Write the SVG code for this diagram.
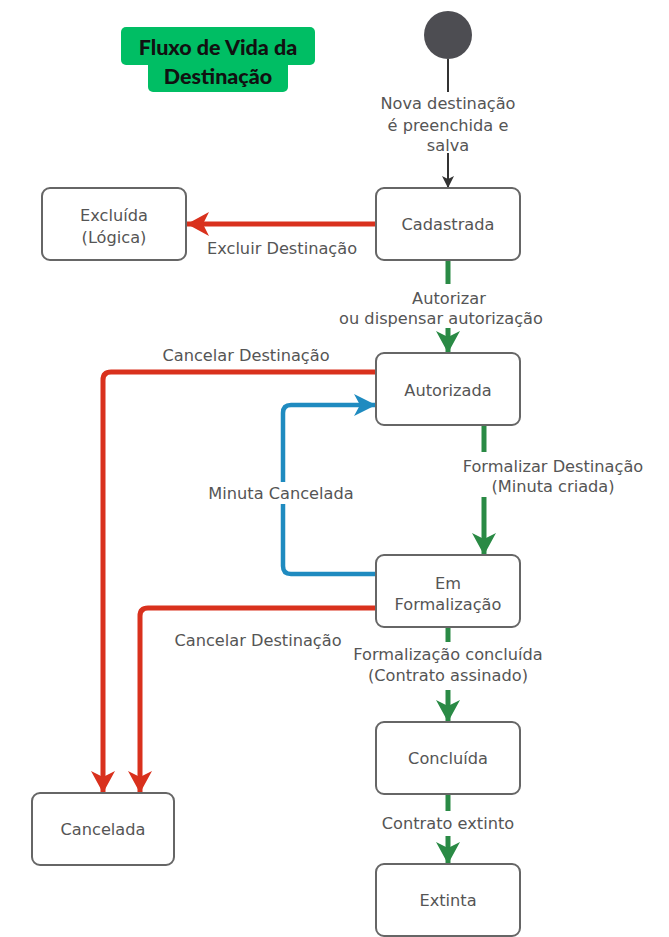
<svg xmlns="http://www.w3.org/2000/svg" width="669" height="937" viewBox="0 0 669 937">
<style>
.box{fill:#fff;stroke:#666;stroke-width:2}
.t{font-family:"DejaVu Sans",Verdana,sans-serif;font-size:16.2px;fill:#555;text-anchor:middle}
.lbl{font-family:"DejaVu Sans",Verdana,sans-serif;font-size:16.2px;fill:#555;text-anchor:middle}
.red{fill:none;stroke:#D9311D;stroke-width:5}
.green{fill:none;stroke:#2A8A45;stroke-width:5}
.blue{fill:none;stroke:#1F8BC0;stroke-width:4.5}
.blk{fill:none;stroke:#333;stroke-width:2}
.title{font-family:Lato,"Open Sans",sans-serif;font-weight:900;font-size:21.5px;fill:#111;text-anchor:middle}
</style>
<defs>
<marker id="aR" markerUnits="userSpaceOnUse" markerWidth="26" markerHeight="26" refX="22" refY="0" viewBox="0 -13 24 26" orient="auto"><path d="M0,-12 L22,0 L0,12 L6,0 Z" fill="#D9311D"/></marker>
<marker id="aG" markerUnits="userSpaceOnUse" markerWidth="26" markerHeight="26" refX="22" refY="0" viewBox="0 -13 24 26" orient="auto"><path d="M0,-12 L22,0 L0,12 L6,0 Z" fill="#2A8A45"/></marker>
<marker id="aB" markerUnits="userSpaceOnUse" markerWidth="26" markerHeight="26" refX="22" refY="0" viewBox="0 -13 24 26" orient="auto"><path d="M0,-11 L22,0 L0,11 L6,0 Z" fill="#1F8BC0"/></marker>
<marker id="aK" markerUnits="userSpaceOnUse" markerWidth="14" markerHeight="14" refX="12" refY="0" viewBox="0 -7 13 14" orient="auto"><path d="M0,-6 L12,0 L0,6 L3,0 Z" fill="#333"/></marker>
</defs>
<rect width="669" height="937" fill="#fff"/>

<g id="title">
<rect x="121" y="27" width="194" height="38" rx="5" fill="#00BE64"/>
<rect x="148" y="58" width="140" height="34" rx="5" fill="#00BE64"/>
<text class="title" x="218" y="55">Fluxo de Vida da</text>
<text class="title" x="218" y="84">Destinação</text>
</g>

<g id="connectors">
<path class="blk" d="M448,59 V92"/>
<path class="blk" d="M448,153 V188" marker-end="url(#aK)"/>
<text class="lbl" x="448" y="109">Nova destinação</text>
<text class="lbl" x="448" y="131">é preenchida e</text>
<text class="lbl" x="448" y="151">salva</text>

<path class="red" d="M376,224 H187" marker-end="url(#aR)"/>
<text class="lbl" x="282" y="254">Excluir Destinação</text>

<path class="green" d="M448,260 V284"/>
<path class="green" d="M448,328 V353" marker-end="url(#aG)"/>
<text class="lbl" x="449" y="304">Autorizar</text>
<text class="lbl" x="441" y="324">ou dispensar autorização</text>

<path class="red" d="M376,372 H111 Q103,372 103,380 V793" marker-end="url(#aR)"/>
<text class="lbl" x="246" y="361">Cancelar Destinação</text>

<path class="blue" d="M376,574 H291 Q283,574 283,566 V413 Q283,405 291,405 H376" marker-end="url(#aB)"/>
<rect x="203" y="482" width="156" height="22" fill="#fff"/>
<text class="lbl" x="281" y="499">Minuta Cancelada</text>

<path class="green" d="M484,425 V452"/>
<path class="green" d="M484,497 V555" marker-end="url(#aG)"/>
<text class="lbl" x="553" y="472">Formalizar Destinação</text>
<text class="lbl" x="553" y="492">(Minuta criada)</text>

<path class="red" d="M376,608 H148 Q140,608 140,616 V793" marker-end="url(#aR)"/>
<text class="lbl" x="258" y="646">Cancelar Destinação</text>

<path class="green" d="M448,627 V642"/>
<path class="green" d="M448,690 V722" marker-end="url(#aG)"/>
<text class="lbl" x="448" y="660">Formalização concluída</text>
<text class="lbl" x="448" y="681">(Contrato assinado)</text>

<path class="green" d="M448,794 V811"/>
<path class="green" d="M448,836 V864" marker-end="url(#aG)"/>
<text class="lbl" x="448" y="829">Contrato extinto</text>
</g>

<g id="inicio"><circle cx="448" cy="35" r="24" fill="#4D4D52"/></g>
<g id="cadastrada"><rect class="box" x="376" y="188" width="144" height="72" rx="8"/><text class="t" x="448" y="230">Cadastrada</text></g>
<g id="excluida"><rect class="box" x="42" y="188" width="144" height="72" rx="8"/><text class="t" x="114" y="221">Excluída</text><text class="t" x="114" y="243">(Lógica)</text></g>
<g id="autorizada"><rect class="box" x="376" y="353" width="144" height="72" rx="8"/><text class="t" x="448" y="396">Autorizada</text></g>
<g id="emformalizacao"><rect class="box" x="376" y="555" width="144" height="72" rx="8"/><text class="t" x="448" y="589">Em</text><text class="t" x="448" y="610">Formalização</text></g>
<g id="concluida"><rect class="box" x="376" y="722" width="144" height="72" rx="8"/><text class="t" x="448" y="764">Concluída</text></g>
<g id="cancelada"><rect class="box" x="32" y="793" width="142" height="72" rx="8"/><text class="t" x="103" y="835">Cancelada</text></g>
<g id="extinta"><rect class="box" x="376" y="864" width="144" height="72" rx="8"/><text class="t" x="448" y="906">Extinta</text></g>
</svg>
